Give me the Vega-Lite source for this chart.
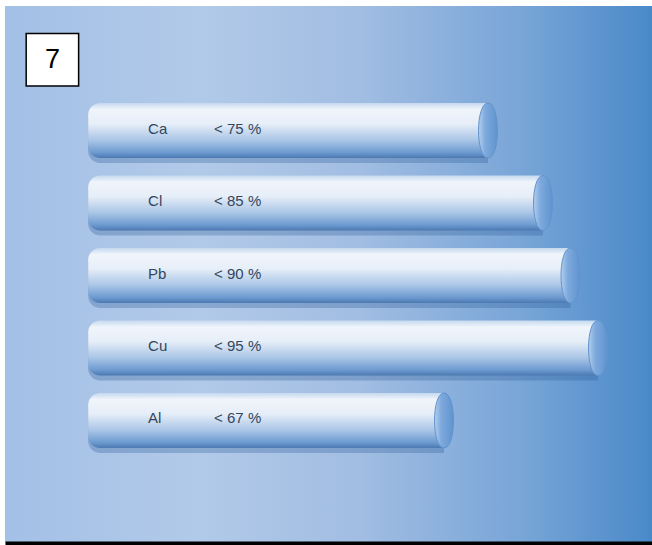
{
  "$schema": "https://vega.github.io/schema/vega-lite/v6.json",
  "autosize": {"type": "fit", "contains": "padding"},
  "width": 652,
  "height": 545,
  "padding": {"left": 5, "top": 6, "right": 0, "bottom": 2},
  "background": "white",
  "view": {
    "stroke": null,
    "fill": {
      "gradient": "linear", "x1": 0, "y1": 0, "x2": 1, "y2": 0,
      "stops": [
        {"offset": 0, "color": "#a3c0e6"},
        {"offset": 0.3, "color": "#b2cae9"},
        {"offset": 0.55, "color": "#a1bde2"},
        {"offset": 0.8, "color": "#78a5d7"},
        {"offset": 1, "color": "#4a89c9"}
      ]
    }
  },
  "config": {
    "axisX": {"labels": false, "ticks": false, "grid": false, "domainColor": "black", "domainWidth": 4}
  },
  "layer": [
    {
      "data": {
        "values": [
          {"element": "Ca", "limit": 75, "label": "< 75 %"},
          {"element": "Cl", "limit": 85, "label": "< 85 %"},
          {"element": "Pb", "limit": 90, "label": "< 90 %"},
          {"element": "Cu", "limit": 95, "label": "< 95 %"},
          {"element": "Al", "limit": 67, "label": "< 67 %"}
        ]
      },
      "encoding": {
        "y": {
          "field": "element", "type": "nominal", "sort": null, "axis": null,
          "scale": {"range": [97, 442], "paddingInner": 0.24, "paddingOuter": 0}
        }
      },
      "layer": [
        {
          "mark": {"type": "bar", "cornerRadiusTopLeft": 12, "cornerRadiusBottomLeft": 12, "color": "#2c5a94", "opacity": 0.3, "yOffset": 5},
          "encoding": {
            "x": {"field": "limit", "type": "quantitative", "title": null, "scale": {"domain": [-12.82, 104.82], "nice": false, "zero": false}},
            "x2": {"datum": 2.3}
          }
        },
        {
          "mark": {
            "type": "bar", "cornerRadiusTopLeft": 12, "cornerRadiusBottomLeft": 12,
            "color": {
              "gradient": "linear", "x1": 0, "y1": 0, "x2": 0, "y2": 1,
              "stops": [
                {"offset": 0, "color": "#c4d8ef"},
                {"offset": 0.12, "color": "#f0f5fb"},
                {"offset": 0.38, "color": "#e6eef8"},
                {"offset": 0.68, "color": "#a9c5e6"},
                {"offset": 0.9, "color": "#6c9ad0"},
                {"offset": 1, "color": "#4a78b0"}
              ]
            }
          },
          "encoding": {
            "x": {"field": "limit", "type": "quantitative", "title": null},
            "x2": {"datum": 2.3}
          }
        },
        {
          "mark": {
            "type": "point", "filled": true, "size": 3025,
            "shape": "M0,-1 C0.46,-1 0.46,1 0,1 C-0.46,1 -0.46,-1 0,-1 Z",
            "fill": {
              "gradient": "linear", "x1": 0, "y1": 0, "x2": 1, "y2": 0,
              "stops": [
                {"offset": 0, "color": "#b3cfee"},
                {"offset": 0.35, "color": "#7eaadd"},
                {"offset": 1, "color": "#5f93cf"}
              ]
            },
            "stroke": "#6494cc", "strokeWidth": 1, "opacity": 1
          },
          "encoding": {
            "x": {"field": "limit", "type": "quantitative", "title": null}
          }
        },
        {
          "mark": {"type": "text", "align": "left", "baseline": "middle", "dy": -2, "font": "Liberation Sans", "fontSize": 15, "color": "#34465c"},
          "encoding": {
            "x": {"datum": 13.2},
            "text": {"field": "element"}
          }
        },
        {
          "mark": {"type": "text", "align": "left", "baseline": "middle", "dy": -2, "font": "Liberation Sans", "fontSize": 15, "color": "#34465c"},
          "encoding": {
            "x": {"datum": 25.2},
            "text": {"field": "label"}
          }
        }
      ]
    },
    {
      "data": {"values": [{"badge": "7"}]},
      "encoding": {
        "y": {"datum": 9, "type": "quantitative", "axis": null, "scale": {"domain": [0, 10], "nice": false, "zero": false}},
        "x": {"datum": -4.2}
      },
      "layer": [
        {
          "mark": {"type": "point", "shape": "square", "size": 2750, "filled": true, "fill": "white", "stroke": "black", "strokeWidth": 1.5, "opacity": 1}
        },
        {
          "mark": {"type": "text", "align": "center", "baseline": "middle", "font": "Liberation Sans", "fontSize": 27, "color": "black"},
          "encoding": {"text": {"field": "badge"}}
        }
      ]
    }
  ],
  "resolve": {"scale": {"y": "independent"}}
}
